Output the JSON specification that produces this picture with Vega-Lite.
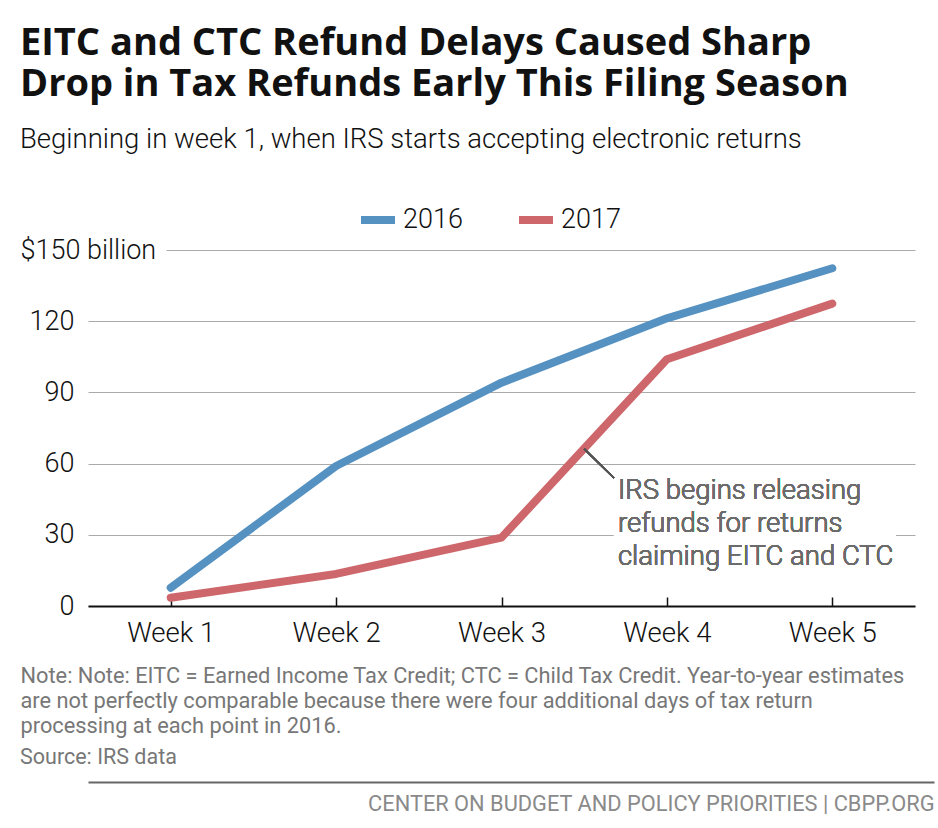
{
  "$schema": "https://vega.github.io/schema/vega-lite/v6.json",
  "background": "white",
  "padding": {"left": 20, "top": 24, "right": 1, "bottom": 2},
  "title": {
    "text": ["EITC and CTC Refund Delays Caused Sharp", "Drop in Tax Refunds Early This Filing Season"],
    "subtitle": "Beginning in week 1, when IRS starts accepting electronic returns",
    "anchor": "start",
    "frame": "bounds",
    "font": "Open Sans",
    "fontSize": 38,
    "fontWeight": "bold",
    "lineHeight": 41,
    "color": "#111111",
    "subtitleFont": "Roboto",
    "subtitleFontWeight": 300,
    "subtitleFontSize": 27.5,
    "subtitleColor": "#111111",
    "subtitlePadding": 22,
    "offset": 46
  },
  "spacing": 9,
  "vconcat": [
    {
      "width": 827,
      "height": 356,
      "title": {
        "text": "Source: IRS data",
        "orient": "bottom",
        "anchor": "start",
        "frame": "bounds",
        "font": "Roboto",
        "fontSize": 21.5,
        "fontWeight": "normal",
        "color": "#777777",
        "offset": 10
      },
      "data": {
        "values": [
          {"week": 1, "year": "2016", "value": 7.7},
          {"week": 2, "year": "2016", "value": 59.0},
          {"week": 3, "year": "2016", "value": 94.1},
          {"week": 4, "year": "2016", "value": 121.2},
          {"week": 5, "year": "2016", "value": 142.3},
          {"week": 1, "year": "2017", "value": 3.5},
          {"week": 2, "year": "2017", "value": 13.5},
          {"week": 3, "year": "2017", "value": 28.8},
          {"week": 4, "year": "2017", "value": 104.0},
          {"week": 5, "year": "2017", "value": 127.4}
        ]
      },
      "layer": [
        {
          "mark": {"type": "rect", "color": "white"},
          "encoding": {
            "x": {"datum": 3.68, "type": "quantitative"},
            "x2": {"datum": 5.385},
            "y": {"datum": 56.5, "type": "quantitative"},
            "y2": {"datum": 12.5}
          }
        },
        {
          "mark": {"type": "line", "strokeWidth": 8, "strokeCap": "round", "strokeJoin": "round"},
          "encoding": {
            "x": {
              "field": "week",
              "type": "quantitative",
              "scale": {"domain": [0.5, 5.5], "nice": false, "zero": false},
              "axis": {
                "values": [1, 2, 3, 4, 5],
                "labelExpr": "'Week ' + datum.value",
                "grid": false,
                "domainColor": "#111111",
                "domainWidth": 2,
                "tickColor": "#111111",
                "tickWidth": 1.5,
                "tickSize": -9,
                "labelPadding": 22,
                "labelFont": "Roboto",
                "labelFontWeight": 300,
                "labelFontSize": 27.5,
                "labelColor": "#111111",
                "title": [
                  "Note: Note: EITC = Earned Income Tax Credit; CTC = Child Tax Credit. Year-to-year estimates",
                  "are not perfectly comparable because there were four additional days of tax return",
                  "processing at each point in 2016."
                ],
                "titleX": -68,
                "titleY": 76,
                "titleAlign": "left",
                "titleAnchor": "start",
                "titleBaseline": "alphabetic",
                "titleFont": "Roboto",
                "titleFontSize": 21.8,
                "titleFontWeight": "normal",
                "titleColor": "#777777",
                "titleLineHeight": 25
              }
            },
            "y": {
              "field": "value",
              "type": "quantitative",
              "scale": {"domain": [0, 150], "nice": false},
              "axis": {
                "values": [0, 30, 60, 90, 120, 150],
                "labelExpr": "datum.value == 150 ? '$150 billion' : datum.label",
                "domain": false,
                "ticks": false,
                "grid": true,
                "gridColor": "#aaaaaa",
                "gridWidth": 1.2,
                "gridDash": {"condition": {"test": "datum.value == 150", "value": [0, 78, 2000]}, "value": []},
                "labelAlign": {"condition": {"test": "datum.value == 150", "value": "left"}, "value": "right"},
                "labelPadding": {"condition": {"test": "datum.value == 150", "value": 68}, "value": 14},
                "labelBaseline": "middle",
                "labelFont": "Roboto",
                "labelFontWeight": 300,
                "labelFontSize": 27,
                "labelColor": "#111111",
                "title": null
              }
            },
            "color": {
              "field": "year",
              "type": "nominal",
              "scale": {"domain": ["2016", "2017"], "range": ["#5591c1", "#cd676b"]},
              "legend": {
                "title": null,
                "orient": "none",
                "legendX": 269,
                "legendY": -51,
                "direction": "horizontal",
                "symbolType": "stroke",
                "symbolSize": 1156,
                "symbolStrokeWidth": 8,
                "labelFont": "Roboto",
                "labelFontWeight": 300,
                "labelFontSize": 27,
                "labelColor": "#111111",
                "labelOffset": 4,
                "columnPadding": 40
              }
            }
          }
        },
        {
          "mark": {"type": "rule", "color": "#555555", "strokeWidth": 1.5},
          "encoding": {
            "x": {"datum": 3.5, "type": "quantitative"},
            "y": {"datum": 66.2, "type": "quantitative"},
            "x2": {"datum": 3.68},
            "y2": {"datum": 53.9}
          }
        },
        {
          "mark": {
            "type": "text",
            "align": "left",
            "baseline": "alphabetic",
            "font": "Roboto",
            "fontWeight": 300,
            "fontSize": 27.5,
            "lineHeight": 33,
            "color": "#6b6b6b"
          },
          "encoding": {
            "x": {"datum": 3.704, "type": "quantitative"},
            "y": {"datum": 45.1, "type": "quantitative"},
            "text": {"value": ["IRS begins releasing", "refunds for returns", "claiming EITC and CTC"]}
          }
        }
      ]
    },
    {
      "width": 846,
      "height": 1,
      "data": {"values": [{"v": 0}]},
      "mark": {"type": "point", "opacity": 0},
      "encoding": {
        "x": {
          "field": "v",
          "type": "quantitative",
          "scale": {"domain": [0, 1]},
          "axis": {
            "domainColor": "#666666",
            "domainWidth": 2,
            "ticks": false,
            "labels": false,
            "grid": false,
            "title": "CENTER ON BUDGET AND POLICY PRIORITIES | CBPP.ORG",
            "titleX": 846,
            "titleY": 28,
            "titleAlign": "right",
            "titleBaseline": "alphabetic",
            "titleFont": "Roboto",
            "titleFontSize": 21.8,
            "titleFontWeight": "normal",
            "titleColor": "#8a8a8a"
          }
        }
      }
    }
  ],
  "config": {
    "view": {"stroke": null}
  }
}
